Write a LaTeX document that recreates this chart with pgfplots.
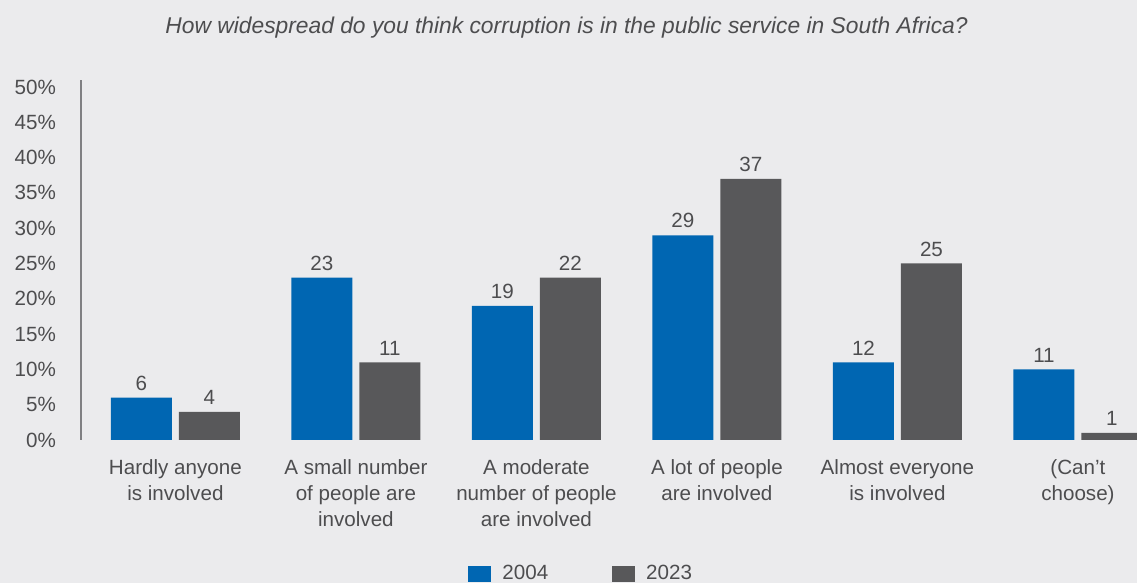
\documentclass[border=0pt]{standalone}
\usepackage{pgfplots}
\pgfplotsset{compat=1.18}
\usepackage{pgfplotstable}
\usepackage{fontspec}
\setmainfont{Liberation Sans}
\definecolor{bgc}{HTML}{EBEBED}
\definecolor{blu}{HTML}{0066B2}
\definecolor{gry}{HTML}{58585A}
\definecolor{txt}{HTML}{4D4D4F}
\definecolor{axc}{HTML}{808083}

\pgfplotstableread{
x y lab
0 6 6
1 23 23
2 19 19
3 29 29
4 11 12
5 10 11
}\first
\pgfplotstableread{
x y lab
0 4 4
1 11 11
2 23 22
3 37 37
4 25 25
5 1 1
}\second

\begin{document}
\begin{tikzpicture}
\path[use as bounding box, fill=bgc] (0,0) rectangle (568.5pt,291.5pt);
\clip (0,0) rectangle (568.5pt,291.5pt);
\node[font=\fontsize{11.4}{13}\selectfont\itshape, text=txt] at (283.3pt,277.5pt) {How widespread do you think corruption is in the public service in South Africa?};
\begin{axis}[
  at={(40.5pt,71.5pt)}, anchor=south west,
  scale only axis, width=528pt, height=180.03pt,
  xmin=-0.523, xmax=5.327, ymin=0, ymax=51,
  axis lines=left,
  x axis line style={draw=none},
  y axis line style={-, draw=axc, line width=0.6pt},
  major tick length=0pt,
  ytick={0,5,...,50},
  yticklabel={\pgfmathprintnumber{\tick}\%},
  /pgf/number format/assume math mode=true,
  xtick={0,1,2,3,4,5},
  xticklabels={{Hardly anyone\\is involved},{A small number\\of people are\\involved},{A moderate\\number of people\\are involved},{A lot of people\\are involved},{Almost everyone\\is involved},{(Can’t\\choose)}},
  tick label style={font=\fontsize{10.3}{13}\selectfont, text=txt},
  xticklabel style={align=center, anchor=north, yshift=-6.5pt},
  yticklabel style={anchor=east, xshift=-9pt},
  ybar=3.5pt, bar width=30.5pt,
  nodes near coords,
  point meta=explicit symbolic,
  every node near coord/.append style={font=\fontsize{10.3}{12}\selectfont, text=txt},
  legend columns=2,
  legend image code/.code={\fill[#1] (0pt,-4pt) rectangle (11.5pt,4pt);},
  legend style={at={(0.3608,-0.372)}, anchor=west, draw=none, fill=none,
    font=\fontsize{10.3}{12}\selectfont, text=txt,
    nodes={inner sep=0pt},
    /tikz/every odd column/.append style={column sep=5.5pt},
    /tikz/every even column/.append style={column sep=32pt}},
]
\addplot[fill=blu, draw=none] table[x=x, y=y, meta=lab]{\first};
\addplot[fill=gry, draw=none] table[x=x, y=y, meta=lab]{\second};
\legend{2004,2023}
\end{axis}
\end{tikzpicture}
\end{document}
